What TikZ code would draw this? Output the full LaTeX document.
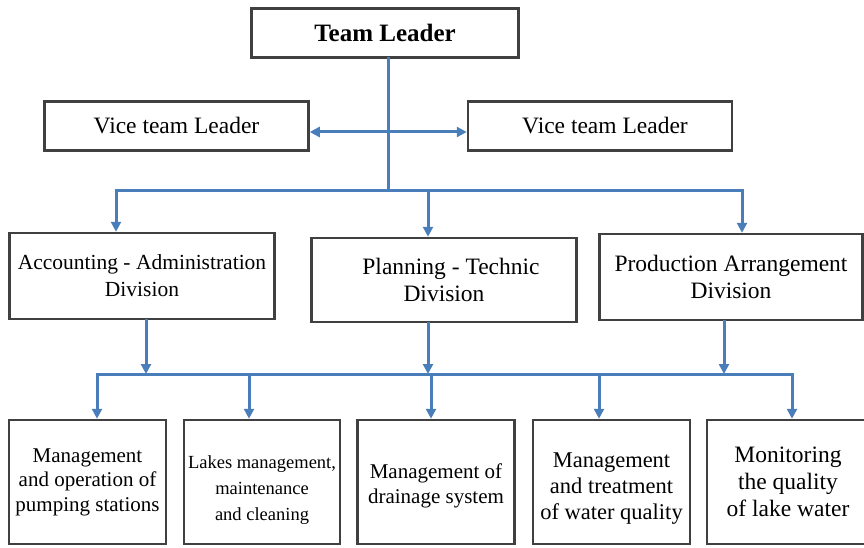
\documentclass[tikz,border=0pt]{standalone}
\usepackage{fontspec}
\setmainfont{Liberation Serif}
\usetikzlibrary{positioning, arrows.meta}
\definecolor{lineblue}{HTML}{4A7EBB}
\definecolor{boxgray}{HTML}{404040}
\tikzset{
	box/.style={
		draw=boxgray,
		rectangle,
		line width=2.5pt,
		align=center,
		inner sep=2pt,
		text=black,
		font=\fontsize{23.5}{27}\selectfont
	},
	line/.style={
		draw=lineblue,
		line width=3pt,
		line cap=rect
	},
	arrow/.style={
		line,
		-{Triangle[length=10pt,width=10pt]}
	},
}
\begin{document}
\begin{tikzpicture}[x=1pt,y=-1pt]
\useasboundingbox (0,0) rectangle (864,548);

% Team Leader
\node[box, minimum width=267pt, minimum height=49pt, font=\bfseries\fontsize{25}{30}\selectfont] (Lead) at (385,33) {Team Leader};

% Vice team Leaders
\node[box, minimum width=264pt, minimum height=49pt] (ViceL) at (176.5,126) {Vice team Leader};
\node[box, minimum width=264pt, minimum height=49pt] (ViceR) at (600,126) {\hspace{10pt}Vice team Leader};

% Divisions
\node[box, minimum width=265pt, minimum height=86pt, font=\fontsize{21.5}{27}\selectfont] (Acc) at (142,276) {Accounting - Administration\\Division};
\node[box, minimum width=265pt, minimum height=84pt] (Plan) at (444,280) {\hspace{14pt}Planning - Technic\\Division};
\node[box, minimum width=263pt, minimum height=86pt] (Prod) at (731,277) {Production Arrangement\\Division};

% Tasks
\node[box, minimum width=157pt, minimum height=124pt, font=\fontsize{21}{24.5}\selectfont] (Pump) at (87.5,482) {Management\\and operation of\\pumping stations};
\node[box, minimum width=156pt, minimum height=124pt, font=\fontsize{18.5}{26}\selectfont] (Lake) at (262,482) {\rule{0pt}{29pt}Lakes management,\\maintenance\\and cleaning};
\node[box, minimum width=157pt, minimum height=124pt, font=\fontsize{21}{25}\selectfont] (Drain) at (436,482) {\rule{0pt}{22pt}Management of\\drainage system};
\node[box, minimum width=157pt, minimum height=124pt, font=\fontsize{22.5}{26}\selectfont] (Treat) at (611.5,482) {\rule{0pt}{27pt}Management\\and treatment\\of water quality};
\node[box, minimum width=162pt, minimum height=124pt, font=\fontsize{23.5}{27}\selectfont] (Monit) at (788,482) {Monitoring\\the quality\\of lake water};

% Bus lines
\coordinate (Split) at (388,132);
\coordinate (BusA) at (388,191);
\coordinate (BusAL) at (116,191);
\coordinate (BusAM) at (428,191);
\coordinate (BusAR) at (742,191);
\coordinate (BusBL) at (97,374);
\coordinate (BusBR) at (792,374);

% Arrows
\draw [line] (Lead.south -| BusA) -- (BusA);
\draw [arrow] (Split) -- (Split -| ViceL.east);
\draw [arrow] (Split) -- (Split -| ViceR.west);
\draw [line] (BusAL) -- (BusAR);
\draw [arrow] (BusAL) -- (BusAL |- Acc.north);
\draw [arrow] (BusAM) -- (BusAM |- Plan.north);
\draw [arrow] (BusAR) -- (BusAR |- Prod.north);

\draw [arrow] (Acc.south -| 146,0) -- (BusBL -| 146,0);
\draw [arrow] (Plan.south -| 428,0) -- (BusBL -| 428,0);
\draw [arrow] (Prod.south -| 724,0) -- (BusBL -| 724,0);
\draw [line] (BusBL) -- (BusBR);
\draw [arrow] (BusBL) -- (BusBL |- Pump.north);
\draw [arrow] (BusBL -| 249,0) -- (Lake.north -| 249,0);
\draw [arrow] (BusBL -| 431,0) -- (Drain.north -| 431,0);
\draw [arrow] (BusBL -| 599,0) -- (Treat.north -| 599,0);
\draw [arrow] (BusBR) -- (BusBR |- Monit.north);

\end{tikzpicture}
\end{document}
